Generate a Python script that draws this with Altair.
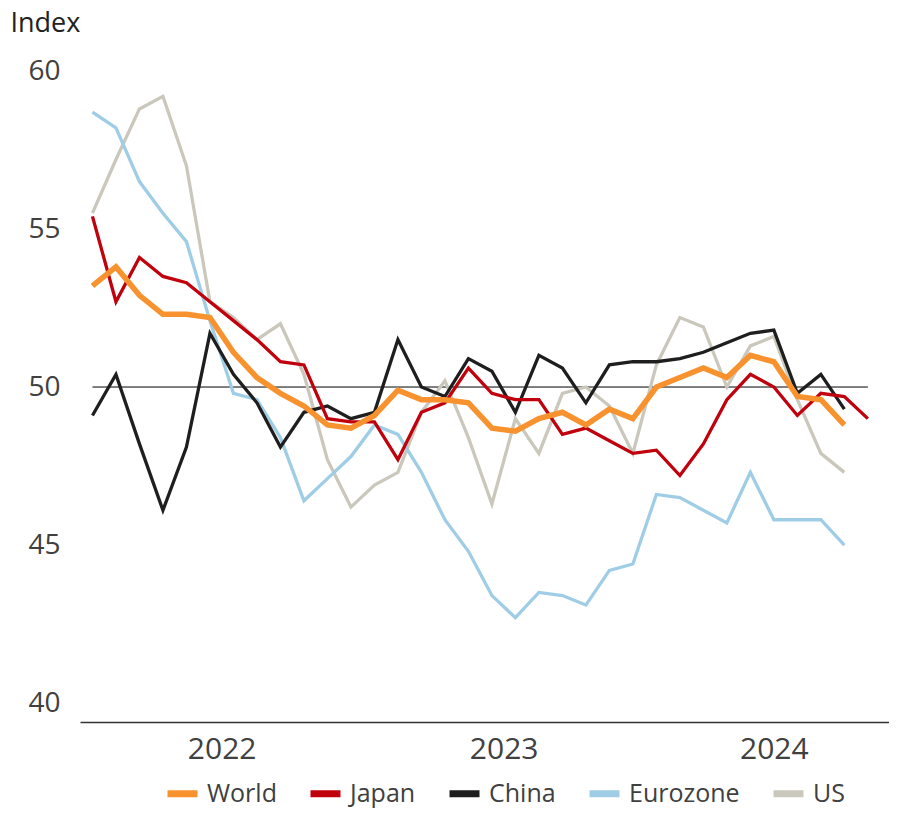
import altair as alt
import pandas as pd

# Monthly manufacturing PMI, Jan 2022 onwards (index 0 = Jan 2022)
months = pd.period_range("2022-01", "2024-10", freq="M").strftime("%Y-%m").tolist()

world = [53.2, 53.8, 52.9, 52.3, 52.3, 52.2, 51.1, 50.3, 49.8, 49.4, 48.8, 48.7,
         49.1, 49.9, 49.6, 49.6, 49.5, 48.7, 48.6, 49.0, 49.2, 48.8, 49.3, 49.0,
         50.0, 50.3, 50.6, 50.3, 51.0, 50.8, 49.7, 49.6, 48.8]
japan = [55.4, 52.7, 54.1, 53.5, 53.3, 52.7, 52.1, 51.5, 50.8, 50.7, 49.0, 48.9,
         48.9, 47.7, 49.2, 49.5, 50.6, 49.8, 49.6, 49.6, 48.5, 48.7, 48.3, 47.9,
         48.0, 47.2, 48.2, 49.6, 50.4, 50.0, 49.1, 49.8, 49.7, 49.0]
china = [49.1, 50.4, 48.2, 46.1, 48.1, 51.7, 50.4, 49.5, 48.1, 49.2, 49.4, 49.0,
         49.2, 51.5, 50.0, 49.7, 50.9, 50.5, 49.2, 51.0, 50.6, 49.5, 50.7, 50.8,
         50.8, 50.9, 51.1, 51.4, 51.7, 51.8, 49.8, 50.4, 49.3]
eurozone = [58.7, 58.2, 56.5, 55.5, 54.6, 52.1, 49.8, 49.6, 48.4, 46.4, 47.1, 47.8,
            48.8, 48.5, 47.3, 45.8, 44.8, 43.4, 42.7, 43.5, 43.4, 43.1, 44.2, 44.4,
            46.6, 46.5, 46.1, 45.7, 47.3, 45.8, 45.8, 45.8, 45.0]
us = [55.5, 57.2, 58.8, 59.2, 57.0, 52.7, 52.2, 51.5, 52.0, 50.4, 47.7, 46.2,
      46.9, 47.3, 49.2, 50.2, 48.4, 46.3, 49.0, 47.9, 49.8, 50.0, 49.4, 47.9,
      50.7, 52.2, 51.9, 50.0, 51.3, 51.6, 49.6, 47.9, 47.3]

series_names = ["World", "Japan", "China", "Eurozone", "US"]
series_colors = ["#F7922E", "#C0000C", "#1E1E1E", "#9FCDE6", "#CAC8BC"]
series_values = [world, japan, china, eurozone, us]

year_labels = ["2022", "2023", "2024"]
year_positions = [5.5, 17.5, 29.0]
y_ticks = [40, 45, 50, 55, 60]

FONT = "Open Sans"
TEXT = "#404040"

frames = {}
for name, vals in zip(series_names, series_values):
    frames[name] = pd.DataFrame({
        "idx": list(range(len(vals))),
        "month": months[:len(vals)],
        "value": vals,
        "series": name,
    })

ref_df = pd.DataFrame({"idx": [0], "idx_end": [len(japan) - 1], "value": [50]})

label_expr = " : ".join(
    f"datum.value == {p} ? '{l}'" for p, l in zip(year_positions[:-1], year_labels[:-1])
) + f" : '{year_labels[-1]}'"

x_enc = alt.X(
    "idx:Q",
    scale=alt.Scale(domain=[-0.53, 33.9], nice=False, zero=False),
    axis=alt.Axis(values=year_positions, labelExpr=label_expr, title=None,
                  grid=False, ticks=False, domainColor="#333333", domainWidth=1.5,
                  labelFontSize=30, labelColor=TEXT, labelFont=FONT, labelPadding=12),
)
y_enc = alt.Y(
    "value:Q",
    scale=alt.Scale(domain=[39.4, 60], nice=False, zero=False),
    axis=alt.Axis(values=y_ticks, domain=False, ticks=False, grid=False,
                  labelFontSize=28, labelColor=TEXT, labelFont=FONT, labelPadding=20,
                  title="Index", titleAngle=0, titleAlign="left", titleBaseline="middle",
                  titleX=-70, titleY=-48, titleFontSize=27, titleFontWeight="normal",
                  titleColor="#222222", titleFont=FONT),
)
color_enc = alt.Color(
    "series:N",
    scale=alt.Scale(domain=series_names, range=series_colors),
    legend=alt.Legend(orient="none", legendX=84, legendY=704, direction="horizontal",
                      columns=5, title=None, symbolType="stroke", symbolSize=900,
                      symbolStrokeWidth=7, labelFontSize=25, labelFont=FONT,
                      labelColor=TEXT, columnPadding=19, labelOffset=6, padding=0),
)

rule = alt.Chart(ref_df).mark_rule(color="black", strokeWidth=1).encode(
    x=x_enc, x2="idx_end:Q", y=y_enc
)

layers = [rule]
for name in ["US", "Eurozone", "China", "Japan", "World"]:
    sw = 5.5 if name == "World" else 3.3
    layers.append(
        alt.Chart(frames[name]).mark_line(strokeWidth=sw).encode(
            x=x_enc, y=y_enc, color=color_enc
        )
    )

chart = alt.layer(*layers).properties(
    width=809, height=651,
    padding={"left": 72, "top": 63, "right": 0, "bottom": 88},
    autosize="none",
    background="white",
).configure_view(stroke=None)

chart.save("out.html", embed_options={"renderer": "svg", "actions": False})
